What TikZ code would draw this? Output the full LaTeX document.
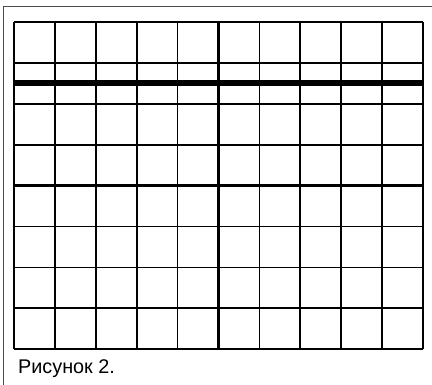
\documentclass[tikz,border=0pt]{standalone}
\usepackage{fontspec}
\setmainfont{Liberation Sans}
\begin{document}
\begin{tikzpicture}[x=1pt,y=-1pt,
  gridline/.style={line width=1.7pt,black},
  axisline/.style={line width=3pt,black},
  boldline/.style={line width=6pt,black},
  frameline/.style={line width=1pt,black!70}]
\useasboundingbox (0,0) rectangle (432,385);
% outer frame (top and left)
\draw[frameline] (3,385) -- (3,7) -- (432,7);
% vertical lines
\foreach \i in {0,...,10} {
  \pgfmathsetmacro\xx{14+\i*40.9}
  \draw[gridline] (\xx,22) -- (\xx,349.5);
}
% horizontal lines
\foreach \j in {0,...,8} {
  \pgfmathsetmacro\yy{22+\j*40.9}
  \draw[gridline] (14,\yy) -- (423,\yy);
}
\draw[axisline] (218.5,22) -- (218.5,349.5);
\draw[axisline] (14,185.6) -- (423,185.6);
\draw[boldline] (14,83) -- (423,83);
\node[anchor=base west,inner sep=0pt,font=\fontsize{19.8}{23}\selectfont] (cap) at (18,374) {Рисунок 2.};
\end{tikzpicture}
\end{document}
